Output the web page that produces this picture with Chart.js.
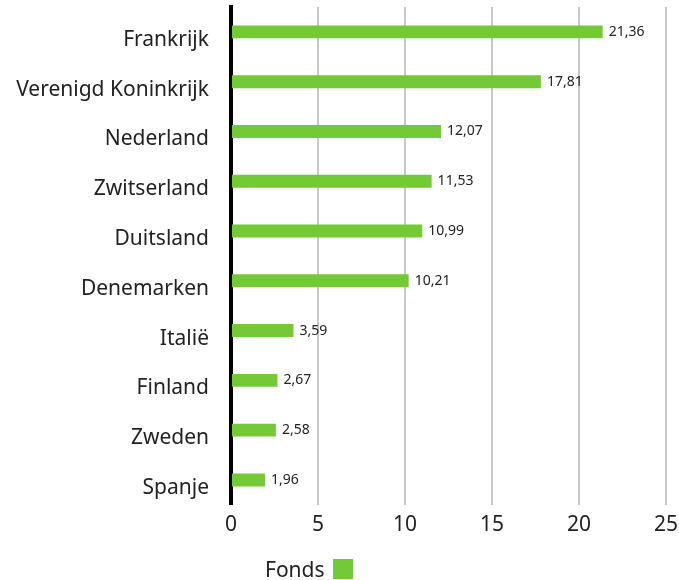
<!DOCTYPE html>
<html><head><meta charset="utf-8">
<script src="https://cdn.jsdelivr.net/npm/chart.js@4/dist/chart.umd.min.js"></script>
<style>
html,body{margin:0;padding:0;background:#fff;}
#wrap{position:relative;width:679px;height:580px;}
#legend{position:absolute;left:265px;top:558px;font-family:"Noto Sans",sans-serif;font-size:21px;color:#222;display:flex;align-items:center;line-height:22px;}
#legend span.box{display:inline-block;width:20px;height:20px;background:#74C936;margin-left:8px;}
</style></head>
<body>
<div id="wrap"><canvas id="c" width="679" height="580"></canvas>
<div id="legend"><span>Fonds</span><span class="box"></span></div></div>
<script>
const categories = ["Frankrijk","Verenigd Koninkrijk","Nederland","Zwitserland","Duitsland","Denemarken","Italië","Finland","Zweden","Spanje"];
const fondsValues = [21.36,17.81,12.07,11.53,10.99,10.21,3.59,2.67,2.58,1.96];
const xTicks = [0,5,10,15,20,25];
const GREEN = "#74C936";
const FONT = "'Noto Sans', sans-serif";

const valueLabels = {
  id:'valueLabels',
  afterDatasetsDraw(chart){
    const ctx = chart.ctx;
    const meta = chart.getDatasetMeta(0);
    ctx.save();
    ctx.font = "14px " + FONT;
    ctx.fillStyle = "#222";
    ctx.textBaseline = "middle";
    ctx.textAlign = "left";
    meta.data.forEach((bar,i)=>{
      const v = chart.data.datasets[0].data[i];
      ctx.fillText(v.toFixed(2).replace('.',','), bar.x + 6, bar.y);
    });
    ctx.restore();
  }
};

new Chart(document.getElementById('c'), {
  type:'bar',
  data:{labels:categories, datasets:[{label:'Fonds', data:fondsValues, backgroundColor:GREEN, categoryPercentage:1, barPercentage:0.26}]},
  options:{
    indexAxis:'y',
    responsive:false,
    animation:false,
    layout:{padding:{top:7,right:13,bottom:34,left:0}},
    plugins:{legend:{display:false}, tooltip:{enabled:false}},
    scales:{
      x:{
        min:0,max:25,
        afterBuildTicks(s){ s.ticks = xTicks.map(v=>({value:v})); },
        afterFit(s){ s.paddingLeft = 0; s.paddingRight = 0; },
        grid:{color:'#c8c8c8', lineWidth:2, drawTicks:false},
        border:{display:false},
        ticks:{font:{family:FONT,size:21}, color:'#222', padding:8}
      },
      y:{
        afterFit(s){ s.width = 231; s.paddingTop = 0; s.paddingBottom = 0; },
        grid:{display:false},
        border:{display:true,color:'#000',width:4},
        ticks:{font:{family:FONT,size:21}, color:'#222', padding:14, labelOffset:8}
      }
    }
  },
  plugins:[valueLabels]
});
</script>
</body></html>
